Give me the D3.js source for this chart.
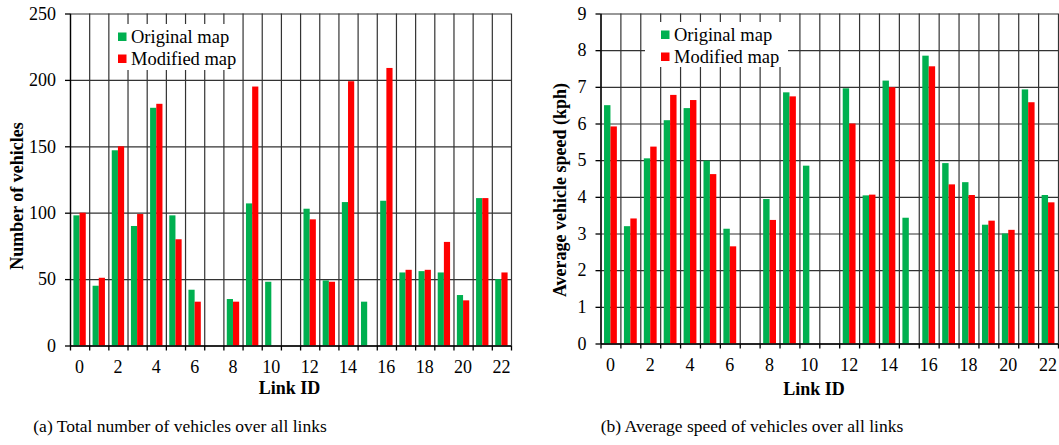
<!DOCTYPE html>
<html>
<head>
<meta charset="utf-8">
<script src="https://cdn.jsdelivr.net/npm/d3@7"></script>
<style>
  html, body { margin: 0; padding: 0; background: #fff; }
  svg { display: block; }
  text { font-family: "Liberation Serif", "Times New Roman", serif; fill: #000; }
</style>
</head>
<body>
<svg id="chart" width="1059" height="445"></svg>
<script>
// ---- data ----
const linkIds = [0,1,2,3,4,5,6,7,8,9,10,11,12,13,14,15,16,17,18,19,20,21,22];
const xTickLabels = [0,2,4,6,8,10,12,14,16,18,20,22];
const seriesNames = ["Original map", "Modified map"];
const seriesColors = ["#00b050", "#ff0000"];

const vehiclesOriginal = [98,45,147,90,179,98,42,0,35,107,48,0,103,49,108,33,109,55,56,55,38,111,50];
const vehiclesModified = [100,51,150,99,182,80,33,0,33,195,0,0,95,48,199,0,209,57,57,78,34,111,55];
const vehicleTicks = [0,50,100,150,200,250];

const speedOriginal = [6.5,3.2,5.05,6.09,6.42,4.99,3.13,0,3.94,6.85,4.85,0,6.96,4.04,7.17,3.43,7.85,4.92,4.40,3.24,3.0,6.93,4.05];
const speedModified = [5.92,3.41,5.37,6.78,6.64,4.62,2.65,0,3.37,6.74,0,0,6.0,4.06,6.99,0,7.56,4.34,4.05,3.35,3.1,6.58,3.85];
const speedTicks = [0,1,2,3,4,5,6,7,8,9];

const svg = d3.select("#chart");

function drawPanel(cfg) {
  const g = svg.append("g");
  const x = d3.scaleBand().domain(linkIds).range([cfg.left, cfg.right]).padding(0);
  const xb = d3.scaleLinear().domain([0, linkIds.length]).range([cfg.left, cfg.right]);
  const xs = d3.scaleBand().domain(seriesNames).range([0, x.bandwidth()]).paddingInner(0).paddingOuter(0.55);
  const y = d3.scaleLinear().domain([0, cfg.yMax]).range([cfg.bottom, cfg.top]);
  const h = cfg.bottom - cfg.top, w = cfg.right - cfg.left;

  // horizontal gridlines
  g.append("g").attr("transform", `translate(${cfg.left},0)`)
    .call(d3.axisLeft(y).tickValues(cfg.ticks).tickSize(-w).tickFormat(""))
    .call(a => a.select(".domain").remove())
    .call(a => a.selectAll("line").attr("stroke", "#333").attr("stroke-width", 1.2));
  // vertical gridlines at band boundaries
  g.append("g").attr("transform", `translate(0,${cfg.bottom})`)
    .call(d3.axisBottom(xb).tickValues(d3.range(0, linkIds.length + 1)).tickSize(-h).tickFormat(""))
    .call(a => a.select(".domain").remove())
    .call(a => a.selectAll("line").attr("stroke", "#333").attr("stroke-width", 1.2));

  // legend background
  g.append("rect").attr("x", cfg.legend.x).attr("y", cfg.legend.y)
    .attr("width", cfg.legend.w).attr("height", cfg.legend.h).attr("fill", "#fff");
  seriesNames.forEach((s, i) => {
    const ry = cfg.legend.rowY[i];
    g.append("rect").attr("x", cfg.legend.mx).attr("y", ry - 4.5).attr("width", 8.5).attr("height", 8.5)
      .attr("fill", seriesColors[i]);
    g.append("text").attr("x", cfg.legend.mx + 13).attr("y", ry + 6).attr("font-size", 18.5).text(s);
  });

  // bars
  const series = [cfg.a, cfg.b];
  series.forEach((vals, si) => {
    g.append("g").selectAll("rect").data(linkIds).join("rect")
      .attr("x", d => x(d) + xs(seriesNames[si]))
      .attr("width", xs.bandwidth())
      .attr("y", (d, i) => y(vals[i]))
      .attr("height", (d, i) => y(0) - y(vals[i]))
      .attr("fill", seriesColors[si]);
  });

  // y axis
  g.append("g").attr("transform", `translate(${cfg.left},0)`)
    .call(d3.axisLeft(y).tickValues(cfg.ticks).tickSize(5).tickPadding(9).tickSizeOuter(0))
    .call(a => a.selectAll("text").attr("font-size", 18).attr("font-family", "Liberation Serif"))
    .call(a => a.selectAll("line,path").attr("stroke", "#000").attr("stroke-width", 1.3));
  // x axis: ticks at boundaries
  g.append("g").attr("transform", `translate(0,${cfg.bottom})`)
    .call(d3.axisBottom(xb).tickValues(d3.range(0, linkIds.length + 1)).tickSize(5).tickSizeOuter(0).tickFormat(""))
    .call(a => a.selectAll("line,path").attr("stroke", "#000").attr("stroke-width", 1.3));
  // x labels at band centres
  g.append("g").attr("transform", `translate(0,${cfg.bottom})`)
    .call(d3.axisBottom(x).tickValues(xTickLabels).tickSize(0).tickPadding(cfg.labelPad))
    .call(a => a.select(".domain").remove())
    .call(a => a.selectAll("text").attr("font-size", 18).attr("font-family", "Liberation Serif"));

  // axis titles
  g.append("text").attr("x", cfg.xTitle[0]).attr("y", cfg.xTitle[1]).attr("text-anchor", "middle")
    .attr("font-size", 18).attr("font-weight", "bold").text("Link ID");
  g.append("text").attr("transform", `translate(${cfg.yTitle[0]},${cfg.yTitle[1]}) rotate(-90)`)
    .attr("text-anchor", "middle").attr("font-size", 18).attr("font-weight", "bold").text(cfg.yLabel);
  // caption
  g.append("text").attr("x", cfg.caption[0]).attr("y", cfg.caption[1]).attr("text-anchor", "middle")
    .attr("font-size", 17.5).text(cfg.captionText);
}

drawPanel({
  left: 70, right: 511, top: 13.5, bottom: 345.5, yMax: 250, ticks: vehicleTicks,
  a: vehiclesOriginal, b: vehiclesModified, labelPad: 15,
  legend: { x: 112, y: 24, w: 128, h: 46, mx: 118, rowY: [37, 59] },
  xTitle: [289.5, 394], yTitle: [23, 196], yLabel: "Number of vehicles",
  caption: [180, 432], captionText: "(a) Total number of vehicles over all links"
});
drawPanel({
  left: 600.5, right: 1058, top: 13.5, bottom: 343.5, yMax: 9, ticks: speedTicks,
  a: speedOriginal, b: speedModified, labelPad: 15,
  legend: { x: 645, y: 22, w: 143, h: 45, mx: 661, rowY: [35, 57] },
  xTitle: [814, 395], yTitle: [566, 190], yLabel: "Average vehicle speed (kph)",
  caption: [752, 432], captionText: "(b) Average speed of vehicles over all links"
});
</script>
</body>
</html>
